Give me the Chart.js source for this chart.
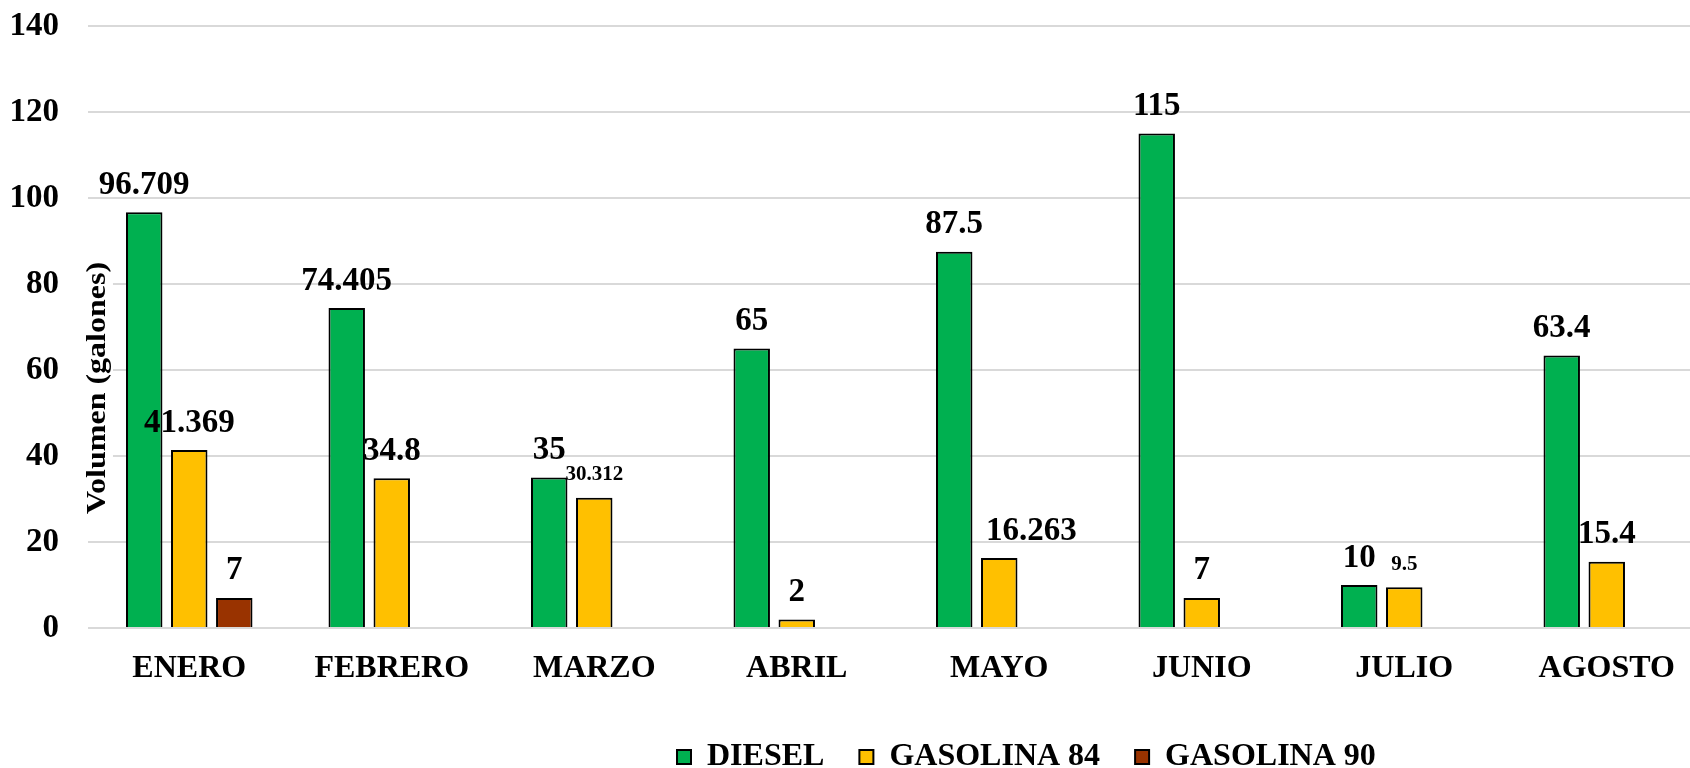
<!DOCTYPE html>
<html>
<head>
<meta charset="utf-8">
<script src="https://cdn.jsdelivr.net/npm/chart.js@4"></script>
<style>
  html, body { margin: 0; padding: 0; background: #fff; overflow: hidden; }
  /* the original plot runs a little past the right edge of the picture */
  #wrap { width: 1708px; height: 768px; position: relative; }
</style>
</head>
<body>
<div id="wrap"><canvas id="myChart"></canvas></div>
<script>
const months = ['ENERO', 'FEBRERO', 'MARZO', 'ABRIL', 'MAYO', 'JUNIO', 'JULIO', 'AGOSTO']
const diesel = [96.709, 74.405, 35, 65, 87.5, 115, 10, 63.4]
const gasolina84 = [41.369, 34.8, 30.312, 2, 16.263, 7, 9.5, 15.4]
const gasolina90 = [7, null, null, null, null, null, null, null]
const yTicks = [0, 20, 40, 60, 80, 100, 120, 140]

const serif = "'Liberation Serif', 'Times New Roman', serif"

// a few labels are drawn smaller / nudged like in the original
const labelStyle = {
  '1-2': { size: 21, dy: -23 },
  '1-6': { size: 21, dy: -23 },
  '1-4': { dx: 32 }
}

const barLabels = {
  id: 'barLabels',
  afterDatasetsDraw(chart) {
    const ctx = chart.ctx
    ctx.save()
    ctx.fillStyle = '#000'
    ctx.textAlign = 'center'
    ctx.textBaseline = 'middle'
    chart.data.datasets.forEach((ds, di) => {
      const meta = chart.getDatasetMeta(di)
      meta.data.forEach((bar, i) => {
        const v = ds.data[i]
        if (v === null || v === undefined) return
        const st = labelStyle[di + '-' + i] || {}
        ctx.font = 'bold ' + (st.size || 33) + 'px ' + serif
        ctx.fillText(String(v), bar.x + (st.dx || 0), bar.y + (st.dy || -27))
      })
    })
    ctx.restore()
  }
}

const yTitle = {
  id: 'yTitle',
  afterDraw(chart) {
    const ctx = chart.ctx
    const a = chart.chartArea
    const text = 'Volumen (galones)'
    ctx.save()
    ctx.font = 'bold 32px ' + serif
    const w = ctx.measureText(text).width
    ctx.translate(a.left + 10, 388)
    ctx.rotate(-Math.PI / 2)
    ctx.scale(1, 0.88)
    ctx.fillStyle = '#fff'
    ctx.fillRect(-w / 2 - 2, -17, w + 4, 34)
    ctx.fillStyle = '#000'
    ctx.textAlign = 'center'
    ctx.textBaseline = 'middle'
    ctx.fillText(text, 0, 0)
    ctx.restore()
  }
}

// the legend of the original sits right of centre, near the bottom edge
const legendShift = {
  id: 'legendShift',
  afterLayout(chart) {
    const lg = chart.legend
    const pad = lg.options.labels.padding
    const lw = (lg.lineWidths && lg.lineWidths[0]) || 0
    const firstBox = (lg.left + pad + lg.right - lw) / 2
    const dx = 677 - firstBox
    const top = 757 - pad - 16
    lg.left += dx
    lg.right += dx
    lg.bottom += top - lg.top
    lg.top = top
  }
}

const ctx = document.getElementById('myChart')

new Chart(ctx, {
  type: 'bar',
  data: {
    labels: months,
    datasets: [
      { label: 'DIESEL', data: diesel, backgroundColor: '#00b050', borderColor: '#000', borderWidth: 2 },
      { label: 'GASOLINA 84', data: gasolina84, backgroundColor: '#ffc000', borderColor: '#000', borderWidth: 2 },
      { label: 'GASOLINA 90', data: gasolina90, backgroundColor: '#993300', borderColor: '#000', borderWidth: 2 }
    ]
  },
  options: {
    responsive: true,
    maintainAspectRatio: false,
    animation: false,
    categoryPercentage: 0.667,
    barPercentage: 0.81,
    layout: { padding: { left: 11, right: 0, top: 26, bottom: 0 } },
    plugins: {
      legend: {
        position: 'bottom',
        labels: {
          color: '#000',
          font: { family: serif, size: 32, weight: 'bold' },
          boxWidth: 14,
          boxHeight: 14,
          padding: 35
        }
      },
      tooltip: { enabled: false }
    },
    scales: {
      x: {
        grid: { display: false, drawTicks: false },
        border: { display: false },
        ticks: { color: '#000', padding: 22, font: { family: serif, size: 32, weight: 'bold' } },
        afterFit(scale) { scale.height = 140 - scale.chart.legend.height }
      },
      y: {
        min: 0,
        max: 140,
        afterBuildTicks(scale) { scale.ticks = yTicks.map(v => ({ value: v })) },
        grid: { color: '#d9d9d9', lineWidth: 2, drawTicks: false },
        border: { display: false },
        ticks: { color: '#000', padding: 29, font: { family: serif, size: 33, weight: 'bold' } },
        afterFit(scale) {
          scale.width = 77
          scale.paddingTop = 0
          scale.paddingBottom = 0
        }
      }
    }
  },
  plugins: [barLabels, yTitle, legendShift]
})
</script>
</body>
</html>
